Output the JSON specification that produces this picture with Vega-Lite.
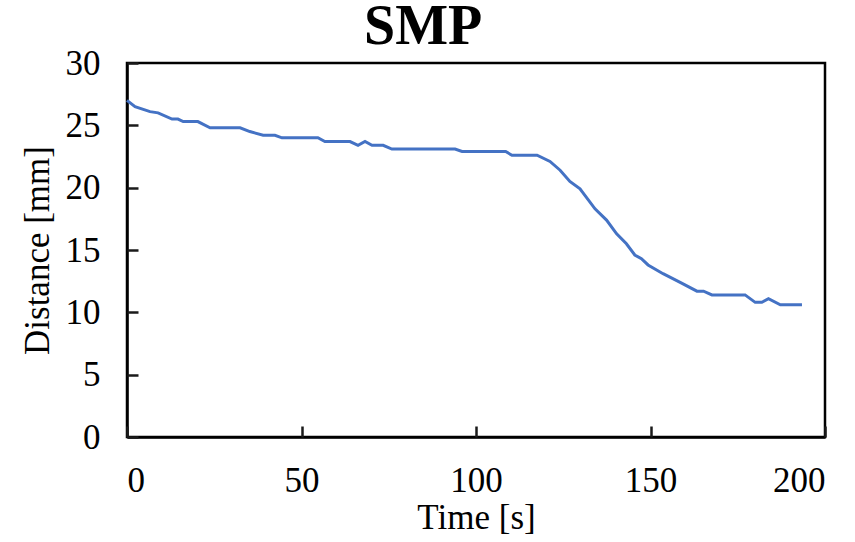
{
  "$schema": "https://vega.github.io/schema/vega-lite/v6.json",
  "autosize": "none",
  "width": 698,
  "height": 374,
  "padding": {"left": 127, "top": 63, "right": 30, "bottom": 105},
  "background": "white",
  "title": {"text": "SMP", "font": "Liberation Serif", "fontSize": 56, "fontWeight": "bold", "color": "black", "anchor": "middle", "frame": "bounds", "offset": -10},
  "config": {
    "view": {"stroke": "black", "strokeWidth": 2.5},
    "axis": {
      "labelFont": "Liberation Serif", "labelFontSize": 35, "labelColor": "black",
      "titleFont": "Liberation Serif", "titleFontSize": 35, "titleFontWeight": "normal", "titleColor": "black",
      "domainColor": "black", "domainWidth": 2.5, "tickWidth": 2.5,
      "grid": false
    }
  },
  "data": {"values": [
    {"t": 0, "d": 27.0}, {"t": 2.3, "d": 26.5}, {"t": 6.6, "d": 26.1}, {"t": 8.9, "d": 26.0},
    {"t": 12.9, "d": 25.5}, {"t": 14.6, "d": 25.5}, {"t": 16.1, "d": 25.3}, {"t": 20.3, "d": 25.3},
    {"t": 23.8, "d": 24.8}, {"t": 32.4, "d": 24.8}, {"t": 35.2, "d": 24.5}, {"t": 39.0, "d": 24.2},
    {"t": 42.4, "d": 24.2}, {"t": 44.4, "d": 24.0}, {"t": 54.7, "d": 24.0}, {"t": 56.7, "d": 23.7},
    {"t": 63.9, "d": 23.7}, {"t": 66.2, "d": 23.4}, {"t": 68.2, "d": 23.7}, {"t": 70.2, "d": 23.4},
    {"t": 73.4, "d": 23.4}, {"t": 75.9, "d": 23.1}, {"t": 94.0, "d": 23.1}, {"t": 96.0, "d": 22.9},
    {"t": 108.5, "d": 22.9}, {"t": 110.3, "d": 22.6}, {"t": 117.5, "d": 22.6}, {"t": 121.2, "d": 22.1},
    {"t": 124.1, "d": 21.4}, {"t": 126.9, "d": 20.5}, {"t": 129.8, "d": 19.9}, {"t": 134.1, "d": 18.3},
    {"t": 137.4, "d": 17.4}, {"t": 140.3, "d": 16.3}, {"t": 143.1, "d": 15.5}, {"t": 145.5, "d": 14.6},
    {"t": 147.4, "d": 14.3}, {"t": 149.3, "d": 13.8}, {"t": 153.6, "d": 13.1}, {"t": 158.5, "d": 12.4},
    {"t": 163.3, "d": 11.7}, {"t": 165.2, "d": 11.7}, {"t": 167.6, "d": 11.4}, {"t": 177.1, "d": 11.4},
    {"t": 180.0, "d": 10.8}, {"t": 181.9, "d": 10.8}, {"t": 183.8, "d": 11.1}, {"t": 187.2, "d": 10.6},
    {"t": 193.4, "d": 10.6}
  ]},
  "resolve": {"axis": {"x": "independent", "y": "independent"}},
  "layer": [
    {
      "mark": {"type": "line", "color": "#4472C4", "strokeWidth": 3},
      "encoding": {
        "x": {"field": "t", "type": "quantitative", "scale": {"domain": [0, 200], "nice": false},
          "axis": {"values": [0, 50, 100, 150, 200], "title": "Time [s]", "ticks": false, "labelPadding": 26, "titlePadding": 2}},
        "y": {"field": "d", "type": "quantitative", "scale": {"domain": [0, 30], "nice": false},
          "axis": {"values": [0, 5, 10, 15, 20, 25, 30], "title": "Distance [mm]", "ticks": false, "labelPadding": 27, "titlePadding": 10}}
      }
    },
    {
      "mark": {"type": "line", "opacity": 0},
      "encoding": {
        "x": {"field": "t", "type": "quantitative", "scale": {"domain": [0, 200], "nice": false},
          "axis": {"orient": "top", "offset": -374, "values": [0, 50, 100, 150, 200], "title": null, "labels": false, "domain": false, "ticks": true, "tickColor": "#1a1a1a", "tickOpacity": 1, "tickWidth": 2.5, "tickSize": 11, "zindex": 1}},
        "y": {"field": "d", "type": "quantitative", "scale": {"domain": [0, 30], "nice": false},
          "axis": {"orient": "right", "offset": -698, "values": [0, 5, 10, 15, 20, 25, 30], "title": null, "labels": false, "domain": false, "ticks": true, "tickColor": "#1a1a1a", "tickOpacity": 1, "tickWidth": 2.5, "tickSize": 11, "zindex": 1}}
      }
    }
  ]
}
